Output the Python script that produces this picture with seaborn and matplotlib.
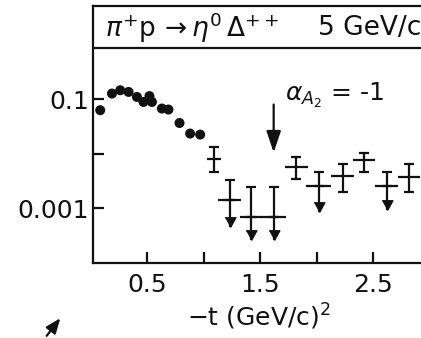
import matplotlib
matplotlib.use('Agg')
import matplotlib.pyplot as plt
from matplotlib.ticker import NullLocator
import seaborn as sns

# filled points: -t (GeV/c)^2 and cross section (log scale)
dot_t = [0.084, 0.188, 0.261, 0.335, 0.409, 0.467, 0.520, 0.542, 0.630, 0.688, 0.786, 0.880, 0.969]
dot_val = [0.063, 0.127, 0.146, 0.136, 0.110, 0.089, 0.114, 0.089, 0.0675, 0.0647, 0.0367, 0.0235, 0.0225]

# measured points with error bars
meas_t = [1.09, 1.82, 2.23, 2.42, 2.82]
meas_val = [0.0082, 0.0057, 0.0040, 0.0076, 0.0037]
meas_hi = [0.0133, 0.0088, 0.0066, 0.0103, 0.0064]
meas_lo = [0.0046, 0.0034, 0.0020, 0.0046, 0.0020]
meas_dt = [0.06, 0.10, 0.10, 0.10, 0.10]

# upper limits (cross + downward arrow)
lim_t = [1.23, 1.42, 1.62, 2.02, 2.62]
lim_val = [0.0014, 0.00071, 0.00071, 0.0026, 0.0026]
lim_hi = [0.0033, 0.0025, 0.0025, 0.0046, 0.0046]
lim_tip = [0.00045, 0.00026, 0.00026, 0.00086, 0.00092]
lim_dt = [0.10, 0.10, 0.11, 0.11, 0.10]

# alpha_A2 = -1 marker
alpha_t = 1.62
alpha_from = 0.09
alpha_to = 0.0094

x_ticks = [0.5, 1.0, 1.5, 2.0, 2.5]
x_labels = ['0.5', '', '1.5', '', '2.5']
y_ticks = [0.001, 0.01, 0.1]
y_labels = ['0.001', '', '0.1']

sns.set_theme(style='ticks')
plt.rcParams['font.family'] = ['DejaVu Sans']
plt.rcParams['mathtext.fontset'] = 'dejavusans'

ink = '#111111'
fig = plt.figure(figsize=(4.21, 3.38), dpi=100)
ax = fig.add_axes([93 / 421, 75 / 338, 336.5 / 421, 257 / 338])
ax.set_yscale('log')
ax.set_xlim(0.02, 3.0)
ax.set_ylim(1e-4, 5.1)

sns.scatterplot(x=dot_t, y=dot_val, ax=ax, color=ink, s=52, edgecolor='none', zorder=3)

# measured points: capped vertical bars, plain horizontal bars
ax.errorbar(meas_t, meas_val,
            yerr=[[v - l for v, l in zip(meas_val, meas_lo)],
                  [h - v for v, h in zip(meas_val, meas_hi)]],
            fmt='none', ecolor=ink, elinewidth=1.6, capsize=3.6, capthick=1.6)
ax.errorbar(meas_t, meas_val, xerr=meas_dt, fmt='none', ecolor=ink, elinewidth=1.6, capsize=0)

# upper limits
ax.errorbar(lim_t, lim_val,
            yerr=[[0] * len(lim_val), [h - v for v, h in zip(lim_val, lim_hi)]],
            fmt='none', ecolor=ink, elinewidth=1.6, capsize=3.6, capthick=1.6)
ax.errorbar(lim_t, lim_val, xerr=lim_dt, fmt='none', ecolor=ink, elinewidth=1.6, capsize=0)
ax.vlines(lim_t, lim_tip, lim_val, color=ink, lw=1.6)
head = [(-0.55, 1.0), (0.55, 1.0), (0.0, 0.0)]
ax.plot(lim_t, lim_tip, ls='none', marker=head, ms=14, color=ink, mec=ink)

# alpha arrow and label
ax.annotate('', xy=(alpha_t, alpha_to), xytext=(alpha_t, alpha_from),
            arrowprops=dict(arrowstyle='-|>,head_length=0.65,head_width=0.22',
                            mutation_scale=20, lw=1.6, color=ink))
ax.text(1.72, 0.118, r'$\alpha_{A_2}$ = -1', fontsize=18, color=ink, ha='left', va='center')

# title strip inside the frame
ax.axhline(0.865, color=ink, lw=1.6)
ax.text(0.035, 0.915, r'$\pi^{+}\mathrm{p}\, \rightarrow \eta^{0}\,\Delta^{++}$',
        transform=ax.transAxes, fontsize=19, color=ink, ha='left', va='center')
ax.text(0.669, 0.915, '5 GeV/c',
        transform=ax.transAxes, fontsize=19, color=ink, ha='left', va='center')

ax.set_xticks(x_ticks)
ax.set_xticklabels(x_labels)
ax.set_yticks(y_ticks)
ax.set_yticklabels(y_labels)
ax.yaxis.set_minor_locator(NullLocator())
ax.tick_params(direction='in', length=8, width=1.6, labelsize=18, colors=ink)
ax.tick_params(axis='x', pad=7)
ax.tick_params(axis='y', pad=3)

for side in ['left', 'bottom', 'top', 'right']:
    ax.spines[side].set_linewidth(1.6)
    ax.spines[side].set_color(ink)

ax.set_xlabel('\u2212t (GeV/c)$^2$', fontsize=18, color=ink)
ax.xaxis.label.set_va('center')
ax.xaxis.set_label_coords(0.493, -0.21)

# stray pen arrow at lower left
fig.patches.append(matplotlib.patches.FancyArrowPatch(
    (45 / 421, 1 - 338 / 338), (62 / 421, 1 - 316 / 338), transform=fig.transFigure,
    arrowstyle='-|>,head_length=0.5,head_width=0.2', mutation_scale=18, lw=1.6, color=ink))

fig.savefig('out.png', dpi=100)
